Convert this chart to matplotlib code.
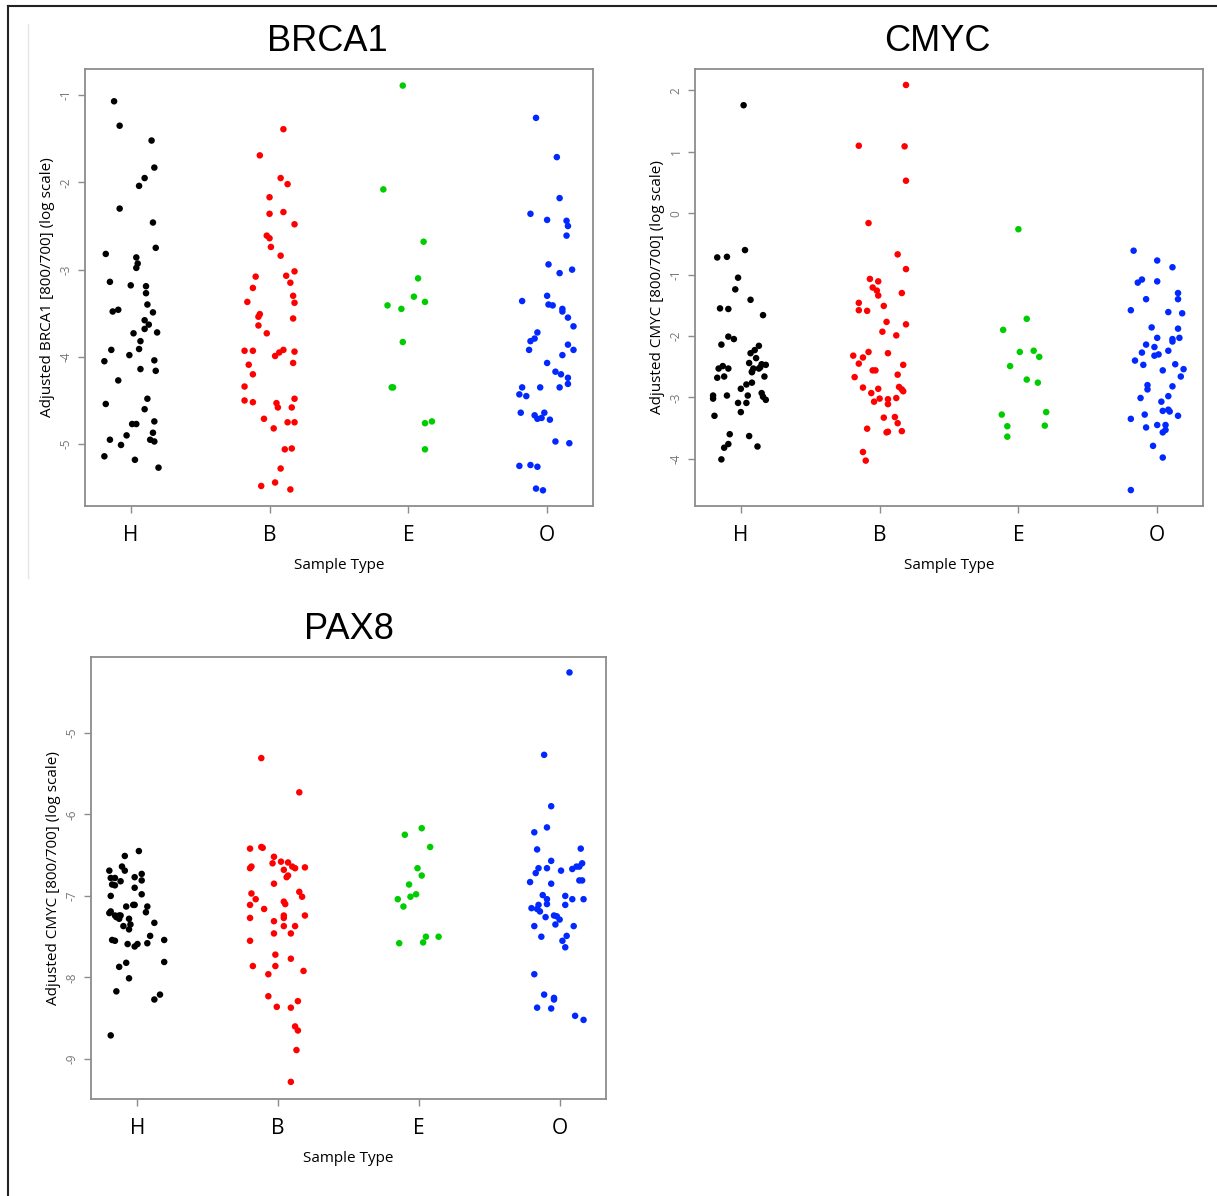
import matplotlib
matplotlib.use("Agg")
import matplotlib.pyplot as plt
from matplotlib.lines import Line2D

# sample groups, in plotting order
groups = ["H", "B", "E", "O"]
colors = ["#000000", "#ff0000", "#00cd00", "#0028ff"]

# ---- BRCA1: (value, jitter) per group ----
brca1_H = [-1.07, -1.35, -1.52, -1.83, -1.95, -2.04, -2.30, -2.46, -2.75, -2.82, -2.86, -2.93, -2.98,
           -3.14, -3.18, -3.19, -3.27, -3.40, -3.48, -3.46, -3.49, -3.58, -3.63, -3.68, -3.73, -3.72,
           -3.82, -3.92, -3.91, -3.98, -4.05, -4.04, -4.14, -4.16, -4.27, -4.48, -4.54, -4.60, -4.77,
           -4.77, -4.74, -4.87, -4.90, -4.95, -4.95, -4.97, -5.01, -5.14, -5.18, -5.27]
brca1_H_jit = [-0.12, -0.08, 0.15, 0.17, 0.10, 0.06, -0.08, 0.16, 0.18, -0.18, 0.04, 0.05, 0.04,
               -0.15, 0.00, 0.11, 0.11, 0.12, -0.13, -0.09, 0.16, 0.10, 0.13, 0.10, 0.02, 0.19,
               0.07, -0.14, 0.06, -0.01, -0.19, 0.17, 0.07, 0.18, -0.09, 0.12, -0.18, 0.10, 0.01,
               0.04, 0.17, 0.16, -0.03, -0.15, 0.14, 0.17, -0.07, -0.19, 0.03, 0.20]
brca1_B = [-1.39, -1.69, -1.95, -2.02, -2.17, -2.36, -2.34, -2.48, -2.61, -2.64, -2.74, -2.84, -3.02,
           -3.08, -3.07, -3.21, -3.15, -3.37, -3.30, -3.38, -3.51, -3.54, -3.56, -3.64, -3.73, -3.93,
           -3.93, -3.92, -3.95, -3.99, -3.94, -4.09, -4.07, -4.20, -4.34, -4.50, -4.52, -4.48, -4.53,
           -4.58, -4.58, -4.71, -4.82, -4.75, -4.75, -5.06, -5.05, -5.28, -5.48, -5.44, -5.52]
brca1_B_jit = [0.10, -0.07, 0.08, 0.13, 0.00, 0.00, 0.10, 0.18, -0.02, 0.00, 0.01, 0.08, 0.18,
               -0.10, 0.12, -0.12, 0.15, -0.16, 0.17, 0.18, -0.07, -0.08, 0.17, -0.08, -0.02, -0.18,
               -0.12, 0.10, 0.07, 0.04, 0.18, -0.15, 0.17, -0.12, -0.18, -0.18, -0.12, 0.18, 0.05,
               0.06, 0.16, -0.04, 0.03, 0.13, 0.18, 0.11, 0.16, 0.08, -0.06, 0.04, 0.15]
brca1_E = [-0.89, -2.08, -2.68, -3.10, -3.31, -3.41, -3.45, -3.37, -3.83, -4.35, -4.35, -4.76, -4.74, -5.06]
brca1_E_jit = [-0.04, -0.18, 0.11, 0.07, 0.04, -0.15, -0.05, 0.12, -0.04, -0.12, -0.11, 0.12, 0.17, 0.12]
brca1_O = [-1.26, -1.71, -2.18, -2.36, -2.43, -2.44, -2.50, -2.61, -2.94, -3.04, -3.00, -3.36, -3.30,
           -3.40, -3.41, -3.45, -3.48, -3.55, -3.65, -3.72, -3.82, -3.79, -3.92, -3.86, -3.92, -3.98,
           -4.07, -4.17, -4.20, -4.24, -4.31, -4.35, -4.35, -4.35, -4.43, -4.45, -4.64, -4.67, -4.71,
           -4.70, -4.64, -4.72, -4.97, -4.99, -5.25, -5.24, -5.26, -5.51, -5.53]
brca1_O_jit = [-0.08, 0.07, 0.09, -0.12, 0.00, 0.14, 0.15, 0.14, 0.01, 0.09, 0.18, -0.18, 0.00,
               0.01, 0.04, 0.11, 0.11, 0.15, 0.19, -0.07, -0.12, -0.09, -0.13, 0.15, 0.19, 0.11,
               0.00, 0.06, 0.10, 0.15, 0.15, -0.18, -0.05, 0.09, -0.20, -0.15, -0.19, -0.09, -0.07,
               -0.04, -0.02, 0.02, 0.06, 0.16, -0.20, -0.12, -0.07, -0.08, -0.03]

# ---- CMYC ----
cmyc_H = [1.76, -0.72, -0.71, -0.60, -1.05, -1.24, -1.41, -1.55, -1.56, -1.66, -2.01, -2.05, -2.14,
          -2.16, -2.23, -2.28, -2.36, -2.44, -2.53, -2.49, -2.53, -2.53, -2.58, -2.46, -2.47, -2.53,
          -2.51, -2.59, -2.68, -2.66, -2.66, -2.76, -2.79, -2.86, -2.97, -3.02, -2.97, -2.97, -2.93,
          -2.99, -3.04, -3.09, -3.09, -3.24, -3.30, -3.60, -3.63, -3.76, -3.82, -3.80, -4.01]
cmyc_H_jit = [0.02, -0.17, -0.10, 0.03, -0.02, -0.04, 0.07, -0.15, -0.09, 0.16, -0.09, -0.05, -0.14,
              0.13, 0.10, 0.07, 0.11, 0.06, -0.16, -0.13, -0.09, 0.09, 0.08, 0.15, 0.18, 0.13,
              0.14, 0.08, -0.17, -0.12, 0.17, 0.08, 0.04, 0.00, -0.20, -0.20, -0.10, 0.05, 0.15,
              0.16, 0.18, -0.02, 0.04, 0.00, -0.19, -0.08, 0.06, -0.09, -0.12, 0.12, -0.14]
cmyc_B = [2.09, 1.10, 1.09, 0.53, -0.16, -0.67, -0.91, -1.07, -1.11, -1.21, -1.26, -1.34, -1.30,
          -1.46, -1.58, -1.59, -1.51, -1.77, -1.81, -1.93, -1.99, -2.26, -2.28, -2.32, -2.35, -2.45,
          -2.47, -2.56, -2.56, -2.63, -2.67, -2.84, -2.86, -2.93, -2.83, -2.87, -2.90, -3.07, -3.02,
          -3.03, -3.01, -3.11, -3.33, -3.32, -3.51, -3.42, -3.56, -3.57, -3.55, -3.89, -4.03]
cmyc_B_jit = [0.19, -0.15, 0.18, 0.19, -0.08, 0.13, 0.19, -0.07, -0.01, -0.05, -0.02, -0.01, 0.16,
              -0.15, -0.15, -0.09, 0.03, 0.05, 0.19, 0.02, 0.12, -0.08, 0.06, -0.19, -0.12, -0.15,
              0.17, -0.05, -0.03, 0.13, -0.18, -0.12, -0.01, -0.06, 0.14, 0.16, 0.17, -0.04, 0.00,
              0.06, 0.12, 0.06, 0.03, 0.11, -0.09, 0.13, 0.06, 0.05, 0.16, -0.12, -0.10]
cmyc_E = [-0.26, -1.72, -1.90, -2.26, -2.24, -2.34, -2.49, -2.71, -2.76, -3.28, -3.24, -3.47, -3.46, -3.64]
cmyc_E_jit = [0.00, 0.06, -0.11, 0.01, 0.11, 0.15, -0.06, 0.06, 0.14, -0.12, 0.20, -0.08, 0.19, -0.08]
cmyc_O = [-0.61, -0.77, -0.88, -1.13, -1.08, -1.11, -1.40, -1.30, -1.40, -1.58, -1.61, -1.63, -1.86,
          -1.88, -2.03, -2.05, -2.09, -2.03, -2.14, -2.18, -2.24, -2.27, -2.30, -2.32, -2.40, -2.47,
          -2.46, -2.56, -2.54, -2.66, -2.80, -2.87, -2.82, -3.01, -2.98, -3.07, -3.22, -3.20, -3.23,
          -3.28, -3.30, -3.35, -3.49, -3.45, -3.45, -3.53, -3.57, -3.79, -3.98, -4.51]
cmyc_O_jit = [-0.17, 0.00, 0.11, -0.14, -0.11, 0.00, -0.08, 0.15, 0.15, -0.19, 0.08, 0.18, -0.04,
              0.15, 0.00, 0.11, 0.11, 0.16, -0.08, -0.02, 0.08, -0.11, 0.01, -0.02, -0.16, -0.10,
              0.13, 0.04, 0.19, 0.17, -0.07, -0.07, 0.11, -0.12, 0.08, 0.03, 0.04, 0.08, 0.09,
              -0.09, 0.15, -0.19, -0.08, 0.00, 0.06, 0.06, 0.04, -0.03, 0.04, -0.19]

# ---- PAX8 ----
pax8_H = [-6.45, -6.51, -6.69, -6.64, -6.69, -6.78, -6.78, -6.73, -6.77, -6.82, -6.81, -6.86, -6.87,
          -6.90, -6.98, -7.00, -7.11, -7.11, -7.13, -7.13, -7.21, -7.19, -7.20, -7.24, -7.24, -7.26,
          -7.24, -7.28, -7.28, -7.35, -7.33, -7.37, -7.41, -7.49, -7.54, -7.55, -7.54, -7.59, -7.59,
          -7.62, -7.58, -7.82, -7.81, -7.87, -8.01, -8.17, -8.21, -8.27, -8.71]
pax8_H_jit = [0.01, -0.09, -0.20, -0.11, -0.09, -0.19, -0.16, 0.03, -0.02, -0.12, 0.03, -0.18, -0.16,
              -0.02, 0.03, -0.19, -0.03, -0.02, -0.08, 0.07, -0.20, -0.19, 0.06, -0.16, -0.13, -0.15,
              -0.12, -0.06, -0.13, -0.05, 0.12, -0.10, -0.06, 0.09, -0.18, -0.16, 0.19, -0.07, 0.00,
              -0.02, 0.07, -0.08, 0.19, -0.13, -0.06, -0.15, 0.16, 0.12, -0.19]
pax8_B = [-5.31, -5.73, -6.42, -6.40, -6.41, -6.52, -6.60, -6.58, -6.59, -6.66, -6.64, -6.68, -6.64,
          -6.66, -6.65, -6.75, -6.77, -6.85, -6.97, -6.95, -7.04, -7.01, -7.11, -7.07, -7.10, -7.16,
          -7.27, -7.31, -7.24, -7.24, -7.27, -7.37, -7.37, -7.46, -7.46, -7.55, -7.72, -7.86, -7.86,
          -7.77, -7.92, -7.96, -8.23, -8.36, -8.29, -8.37, -8.60, -8.65, -8.89, -9.28]
pax8_B_jit = [-0.12, 0.15, -0.20, -0.12, -0.11, -0.03, -0.04, 0.02, 0.07, -0.20, -0.19, 0.04, 0.10,
              0.12, 0.19, 0.07, 0.06, -0.03, -0.19, 0.15, -0.16, 0.17, -0.20, 0.04, 0.05, -0.10,
              -0.20, -0.03, 0.04, 0.19, 0.04, 0.04, 0.12, -0.03, 0.09, -0.20, -0.02, -0.18, -0.02,
              0.09, 0.18, -0.07, -0.07, -0.01, 0.14, 0.09, 0.12, 0.14, 0.13, 0.09]
pax8_E = [-6.17, -6.25, -6.40, -6.66, -6.75, -6.86, -6.98, -7.01, -7.04, -7.13, -7.50, -7.50, -7.57, -7.58]
pax8_E_jit = [0.02, -0.10, 0.08, -0.01, 0.02, -0.07, -0.02, -0.06, -0.15, -0.11, 0.05, 0.14, 0.03, -0.14]
pax8_O = [-4.26, -5.27, -5.90, -6.16, -6.22, -6.43, -6.42, -6.57, -6.66, -6.66, -6.72, -6.69, -6.67,
          -6.64, -6.64, -6.60, -6.83, -6.85, -6.81, -6.81, -6.99, -7.04, -7.00, -7.04, -7.04, -7.11,
          -7.10, -7.11, -7.15, -7.16, -7.19, -7.24, -7.25, -7.29, -7.26, -7.35, -7.37, -7.37, -7.50,
          -7.49, -7.55, -7.63, -7.96, -8.21, -8.25, -8.27, -8.37, -8.38, -8.47, -8.52]
pax8_O_jit = [0.07, -0.11, -0.06, -0.09, -0.18, -0.16, 0.15, -0.06, -0.15, -0.09, -0.17, 0.01, 0.09,
              0.12, 0.14, 0.16, -0.21, -0.06, 0.14, 0.16, -0.12, -0.09, 0.04, 0.09, 0.17, -0.15,
              -0.09, 0.04, -0.20, -0.16, -0.14, -0.04, -0.02, 0.00, -0.10, -0.03, -0.18, 0.10, -0.13,
              0.05, 0.02, 0.04, -0.18, -0.11, -0.04, -0.04, -0.16, -0.06, 0.11, 0.17]

panels = [
    dict(title="BRCA1", ylabel="Adjusted BRCA1 [800/700] (log scale)",
         rect=[0.0698, 0.5769, 0.4174, 0.3654], ylim=(-5.71, -0.70), yticks=[-5, -4, -3, -2, -1],
         vals=[brca1_H, brca1_B, brca1_E, brca1_O],
         jit=[brca1_H_jit, brca1_B_jit, brca1_E_jit, brca1_O_jit], title_x=0.477),
    dict(title="CMYC", ylabel="Adjusted CMYC [800/700] (log scale)",
         rect=[0.5711, 0.5769, 0.4174, 0.3654], ylim=(-4.77, 2.35), yticks=[-4, -3, -2, -1, 0, 1, 2],
         vals=[cmyc_H, cmyc_B, cmyc_E, cmyc_O],
         jit=[cmyc_H_jit, cmyc_B_jit, cmyc_E_jit, cmyc_O_jit], title_x=0.477),
    dict(title="PAX8", ylabel="Adjusted CMYC [800/700] (log scale)",
         rect=[0.0748, 0.0811, 0.4232, 0.3696], ylim=(-9.49, -4.07), yticks=[-9, -8, -7, -6, -5],
         vals=[pax8_H, pax8_B, pax8_E, pax8_O],
         jit=[pax8_H_jit, pax8_B_jit, pax8_E_jit, pax8_O_jit], title_x=0.5),
]

lab_font = ["Open Sans", "DejaVu Sans"]
title_font = ["Liberation Sans Narrow", "Liberation Sans", "DejaVu Sans"]
axis_grey = "#8c8c8c"

fig = plt.figure(figsize=(12.17, 11.96), dpi=100)

for p in panels:
    ax = fig.add_axes(p["rect"])
    for i, (v, j) in enumerate(zip(p["vals"], p["jit"])):
        xs = [i + 1 + d for d in j]
        ax.scatter(xs, v, s=22, color=colors[i], edgecolors="none", zorder=3)
    ax.set_xlim(0.67, 4.33)
    ax.set_ylim(*p["ylim"])
    ax.set_xticks(range(1, 5))
    ax.set_xticklabels(groups, fontsize=15, family=lab_font)
    ax.set_yticks(p["yticks"])
    ax.set_yticklabels([str(t) for t in p["yticks"]], rotation=90, va="center",
                       fontsize=8.5, color="#777777", family=lab_font)
    ax.tick_params(axis="both", length=5, width=1, color=axis_grey)
    ax.tick_params(axis="x", pad=9)
    ax.tick_params(axis="y", pad=4)
    for s in ax.spines.values():
        s.set_color(axis_grey)
        s.set_linewidth(1.3)
    ax.set_xlabel("Sample Type", fontsize=11, family=lab_font, labelpad=8)
    ax.set_ylabel(p["ylabel"], fontsize=11, family=lab_font, labelpad=3)
    ax.set_title(p["title"], fontsize=26, family=title_font, x=p["title_x"], pad=13)

# frame lines of the original screenshot
fig.add_artist(Line2D([8 / 1217, 8 / 1217], [0, 1 - 6 / 1196], color="#222222", lw=1.5))
fig.add_artist(Line2D([8 / 1217, 1], [1 - 6 / 1196, 1 - 6 / 1196], color="#222222", lw=1.5))
fig.add_artist(Line2D([28 / 1217, 28 / 1217], [1 - 578 / 1196, 1 - 24 / 1196], color="#e6e6e6", lw=1))

fig.savefig("out.png", dpi=100)
